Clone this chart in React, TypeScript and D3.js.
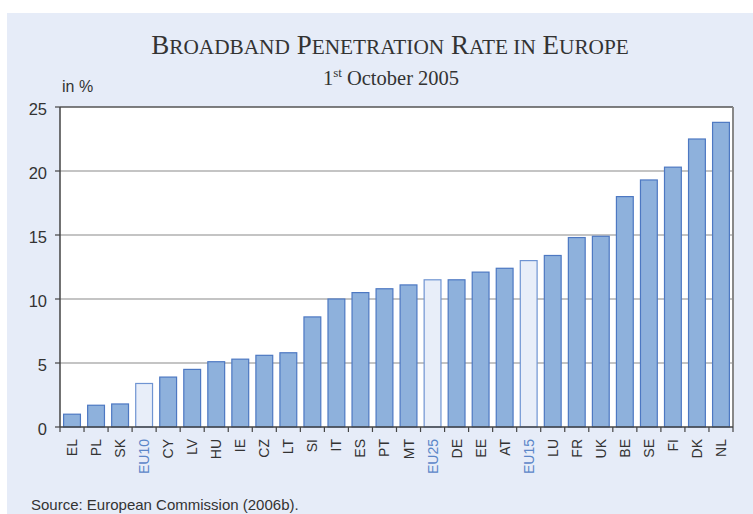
import React from 'react';
import * as d3 from 'd3';

const countries = ['EL', 'PL', 'SK', 'EU10', 'CY', 'LV', 'HU', 'IE', 'CZ', 'LT', 'SI', 'IT', 'ES', 'PT', 'MT', 'EU25', 'DE', 'EE', 'AT', 'EU15', 'LU', 'FR', 'UK', 'BE', 'SE', 'FI', 'DK', 'NL'];
const rates = [1.0, 1.7, 1.8, 3.4, 3.9, 4.5, 5.1, 5.3, 5.6, 5.8, 8.6, 10.0, 10.5, 10.8, 11.1, 11.5, 11.5, 12.1, 12.4, 13.0, 13.4, 14.8, 14.9, 18.0, 19.3, 20.3, 22.5, 23.8];
const yTicks = [0, 5, 10, 15, 20, 25];
const titleWords = ['Broadband', 'Penetration', 'Rate', 'in', 'Europe'];

const width = 753;
const height = 514;
const left = 60, right = 733, top = 107, bottom = 427;

// small caps by hand: first letter big, rest smaller capitals ("in" all small)
function SmallCaps() {
  const parts: JSX.Element[] = [];
  titleWords.forEach((w, i) => {
    const sp = i > 0 ? ' ' : '';
    if (w === 'in') {
      parts.push(<tspan key={i} fontSize={21.3}>{sp + w.toUpperCase()}</tspan>);
    } else {
      parts.push(<tspan key={i + 'a'} fontSize={27}>{sp + w[0]}</tspan>);
      parts.push(<tspan key={i + 'b'} fontSize={21.3}>{w.slice(1).toUpperCase()}</tspan>);
    }
  });
  return <>{parts}</>;
}

export default function App() {
  const x = d3.scaleBand<string>().domain(countries).range([left, right]).paddingInner(0.3).paddingOuter(0.15);
  const y = d3.scaleLinear().domain([0, 25]).range([bottom, top]);
  const step = x.step();
  const isEU = (c: string) => c.startsWith('EU');

  return (
    <svg width={width} height={height} style={{ position: 'absolute', left: 0, top: 0 }}>
      <rect x={7} y={13} width={width - 7} height={height - 13} fill="#e6ecf8" />
      <text x={390} y={54} textAnchor="middle" fontFamily="Liberation Serif" fill="#333">
        <SmallCaps />
      </text>
      <text x={391} y={85} textAnchor="middle" fontFamily="Liberation Serif" fontSize={20.5} fill="#333">
        1<tspan dy={-8} fontSize={13}>st</tspan><tspan dy={8}> October 2005</tspan>
      </text>
      <text x={62} y={92} fontFamily="Liberation Sans" fontSize={16} fill="#333">in %</text>

      <rect x={left} y={top} width={right - left} height={bottom - top} fill="#fff" />
      {yTicks.filter(t => t > 0 && t < 25).map(t => (
        <line key={t} x1={left} x2={right} y1={y(t)} y2={y(t)} stroke="#b0b0b0" strokeWidth={1.5} />
      ))}
      <line x1={left} x2={right} y1={top} y2={top} stroke="#555" strokeWidth={1.5} />
      <line x1={right} x2={right} y1={top} y2={bottom} stroke="#888" strokeWidth={2} />

      {countries.map((c, i) => (
        <rect key={c} x={x(c)} y={y(rates[i])} width={x.bandwidth()} height={bottom - y(rates[i])}
          fill={isEU(c) ? '#e8eef9' : '#8eb1dc'} stroke={isEU(c) ? '#6f94d2' : '#4d78c2'} strokeWidth={1.2} />
      ))}

      <line x1={left} x2={left} y1={top} y2={bottom} stroke="#444" strokeWidth={1.5} />
      <line x1={left} x2={right} y1={bottom} y2={bottom} stroke="#444" strokeWidth={1.5} />
      {yTicks.map(t => (
        <g key={t}>
          <line x1={left - 5} x2={left} y1={y(t)} y2={y(t)} stroke="#444" strokeWidth={1.2} />
          <text x={left - 13} y={y(t) + 7.5} textAnchor="end" fontFamily="Liberation Sans" fontSize={16.5} fill="#333">{t}</text>
        </g>
      ))}
      {d3.range(countries.length + 1).map(i => (
        <line key={i} x1={left + i * step} x2={left + i * step} y1={bottom} y2={bottom + 5} stroke="#444" strokeWidth={1.2} />
      ))}
      {countries.map(c => (
        <text key={c} transform={`translate(${(x(c) ?? 0) + x.bandwidth() / 2 + 5},${bottom + 12}) rotate(-90)`}
          textAnchor="end" fontFamily="Liberation Sans" fontSize={14} fill={isEU(c) ? '#5b86c8' : '#333'}>{c}</text>
      ))}

      <text x={31} y={510} fontFamily="Liberation Sans" fontSize={15} fill="#333">Source: European Commission (2006b).</text>
    </svg>
  );
}
